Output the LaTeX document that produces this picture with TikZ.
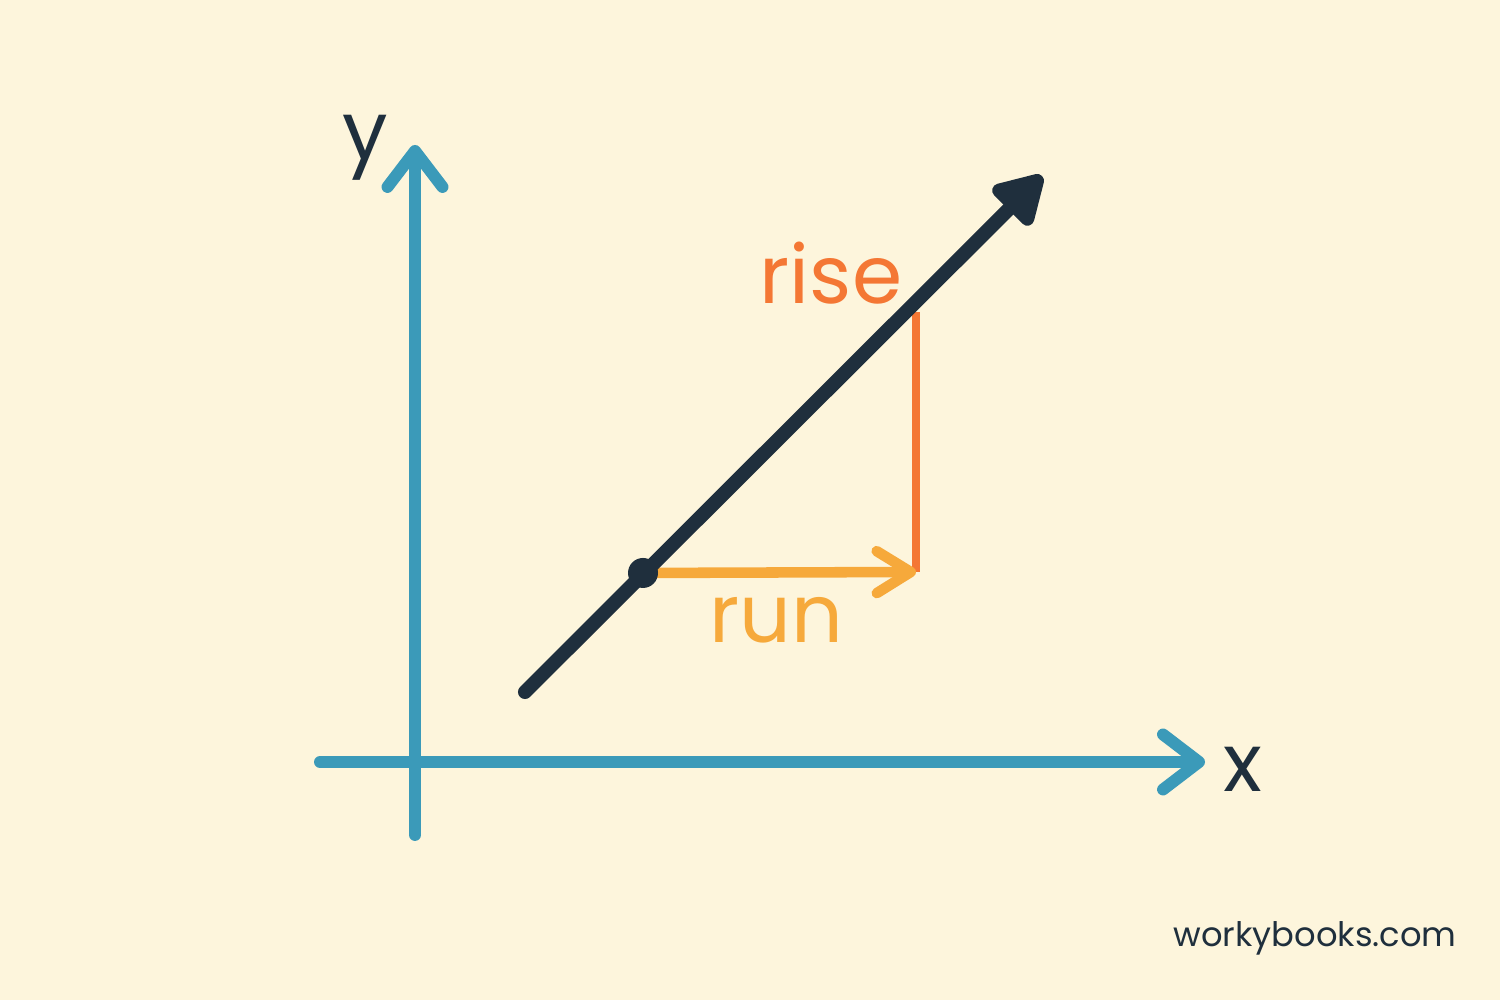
\documentclass[tikz,border=0pt]{standalone}
\usepackage{fontspec}
\setmainfont{Poppins}
\usetikzlibrary{arrows.meta}

\definecolor{cream}{HTML}{FDF5DC}
\definecolor{axisblue}{HTML}{3B9AB9}
\definecolor{inkdark}{HTML}{1F2F3D}
\definecolor{riseorange}{HTML}{F47734}
\definecolor{runyellow}{HTML}{F6A93B}

\begin{document}
\begin{tikzpicture}[
    axis/.style={draw=axisblue,line width=3.4pt,line cap=round,
      -{Straight Barb[length=0.36cm,width=0.55cm,round]}},
    label/.style={inner sep=0pt,font=\fontsize{23}{27}\selectfont}
  ]

      \fill[cream] (0,0) rectangle (15,10);
      \useasboundingbox (0,0) rectangle (15,10);

      % axes
      \coordinate (xs) at (3.20,2.38);
      \coordinate (xe) at (12.05,2.38);
      \coordinate (ys) at (4.15,1.65);
      \coordinate (ye) at (4.15,8.55);
      \draw[axis] (xs) -- (xe);
      \draw[axis] (ys) -- (ye);
      \node[label,text=inkdark] (xl) at (12.43,2.31){x};
      \node[label,text=inkdark] (yl) at (3.65,8.52){y};

      % line with slope
      \coordinate (ls) at (5.25,3.08);
      \coordinate (le) at (10.42,8.24);
      \coordinate (P) at (6.43,4.27);
      \coordinate (Q) at (9.16,4.28);
      \coordinate (R) at (9.16,6.88);

      \draw[riseorange,line width=2.2pt] (Q) -- (R);
      \draw[runyellow,line width=3pt,line cap=round,
        -{Straight Barb[length=0.34cm,width=0.42cm,round]}] (P) -- (Q);
      \draw[inkdark,line width=4pt,line cap=round,
        -{Triangle[length=0.55cm,width=0.6cm,round]}] (ls) -- (le);
      \fill[inkdark] (P) circle (0.15);

      \node[label,text=riseorange] (rise) at (8.31,7.27){rise};
      \node[label,text=runyellow] (run) at (7.76,3.80){run};

      \node[inner sep=0pt,text=inkdark,font=\fontsize{9.6}{12}\selectfont] (site) at (13.15,0.62){workybooks.com};

    \end{tikzpicture}
\end{document}
